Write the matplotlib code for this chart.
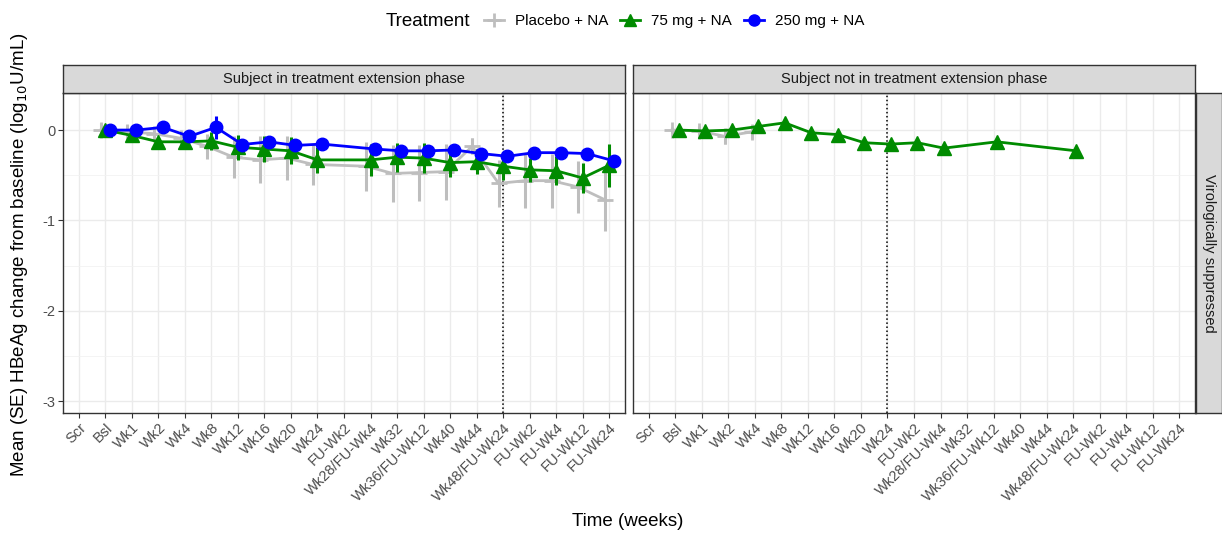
import numpy as np
import matplotlib
matplotlib.use('Agg')
from matplotlib import pyplot as plt
from matplotlib.lines import Line2D

plt.rcParams['font.family'] = ['Liberation Sans', 'DejaVu Sans']
plt.rcParams['axes.unicode_minus'] = False

W, H = 1222, 533

visits = ['Scr', 'Bsl', 'Wk1', 'Wk2', 'Wk4', 'Wk8', 'Wk12', 'Wk16', 'Wk20', 'Wk24',
          'FU-Wk2', 'Wk28/FU-Wk4', 'Wk32', 'Wk36/FU-Wk12', 'Wk40', 'Wk44',
          'Wk48/FU-Wk24', 'FU-Wk2', 'FU-Wk4', 'FU-Wk12', 'FU-Wk24']
nan = np.nan

# panel 1: subject in treatment extension phase
ext_placebo = [nan, 0.0, -0.02, -0.04, -0.09, -0.18, -0.30, -0.33, -0.31, -0.38, nan,
               -0.40, -0.48, -0.47, -0.46, -0.18, -0.59, -0.56, -0.56, -0.63, -0.77]
ext_placebo_se = [nan, 0.08, 0.08, 0.05, 0.07, 0.14, 0.23, 0.26, 0.24, 0.23, nan,
                  0.27, 0.32, 0.31, 0.31, 0.09, 0.26, 0.30, 0.30, 0.29, 0.35]
ext_75 = [nan, 0.0, -0.06, -0.13, -0.13, -0.12, -0.19, -0.21, -0.23, -0.33, nan,
          -0.33, -0.30, -0.31, -0.36, -0.35, -0.40, -0.44, -0.45, -0.53, -0.39]
ext_75_se = [nan, 0.03, 0.04, 0.04, 0.05, 0.10, 0.14, 0.14, 0.15, 0.14, nan,
             0.18, 0.16, 0.17, 0.16, 0.14, 0.15, 0.13, 0.16, 0.17, 0.24]
ext_250 = [nan, 0.0, 0.0, 0.03, -0.07, 0.03, -0.16, -0.13, -0.17, -0.155, nan,
           -0.21, -0.23, -0.23, -0.22, -0.26, -0.29, -0.25, -0.25, -0.26, -0.34]
ext_250_se = [nan, 0.02, 0.02, 0.02, 0.03, 0.13, 0.03, 0.03, 0.03, 0.03, nan,
              0.03, 0.03, 0.03, 0.03, 0.04, 0.04, 0.04, 0.04, 0.04, 0.05]

# panel 2: subject not in treatment extension phase
noext_placebo = [nan, 0.0, -0.01, -0.07, -0.02] + [nan] * 16
noext_placebo_se = [nan, 0.03, 0.05, 0.08, 0.08] + [nan] * 16
noext_75 = [nan, 0.0, -0.01, 0.0, 0.04, 0.08, -0.03, -0.05, -0.14, -0.155, -0.14,
            -0.20, nan, -0.13, nan, nan, -0.23, nan, nan, nan, nan]
noext_75_se = [0.0] * 21

panels = ['Subject in treatment extension phase', 'Subject not in treatment extension phase']
row_strip = 'Virologically suppressed'
treatments = ['Placebo + NA', '75 mg + NA', '250 mg + NA']

colors = {'Placebo + NA': '#BEBEBE', '75 mg + NA': '#008B00', '250 mg + NA': '#0000FF'}
markers = {'Placebo + NA': '+', '75 mg + NA': '^', '250 mg + NA': 'o'}
msizes = {'Placebo + NA': 11, '75 mg + NA': 10, '250 mg + NA': 9}

panel_data = [
    ({'Placebo + NA': (ext_placebo, ext_placebo_se),
      '75 mg + NA': (ext_75, ext_75_se),
      '250 mg + NA': (ext_250, ext_250_se)},
     {'Placebo + NA': -0.167, '75 mg + NA': 0.0, '250 mg + NA': 0.167}, 17),
    ({'Placebo + NA': (noext_placebo, noext_placebo_se),
      '75 mg + NA': (noext_75, noext_75_se)},
     {'Placebo + NA': -0.125, '75 mg + NA': 0.125}, 10),
]


def box(x0, y0, x1, y1):
    return [x0 / W, 1 - y1 / H, (x1 - x0) / W, (y1 - y0) / H]


def strip_axes(rect):
    a = fig.add_axes(rect)
    a.set_xticks([])
    a.set_yticks([])
    a.set_facecolor('#D9D9D9')
    for s in a.spines.values():
        s.set_color('#333333')
        s.set_linewidth(1.0)
    return a


fig = plt.figure(figsize=(W / 100, H / 100), dpi=100)

panel_x = [(63, 625), (633, 1195)]
py0, py1 = 93, 413
pos = np.arange(1, len(visits) + 1)

for i, ((x0, x1), (series, dodge, vline)) in enumerate(zip(panel_x, panel_data)):
    ax = fig.add_axes(box(x0, py0, x1, py1))
    ax.set_xlim(0.4, len(visits) + 0.6)
    ax.set_ylim(-3.13, 0.41)
    ax.set_yticks([0, -1, -2, -3])
    ax.set_yticks([-0.5, -1.5, -2.5], minor=True)
    ax.set_xticks(pos)
    ax.set_xticklabels(visits, rotation=45, ha='right', rotation_mode='anchor',
                       fontsize=10.5, color='#4D4D4D')
    ax.tick_params(axis='x', length=3.5, color='#333333', width=0.8, pad=2)
    ax.tick_params(axis='y', which='major', length=3.5, color='#333333', width=0.8,
                   labelsize=10.5, labelcolor='#4D4D4D', pad=2)
    ax.tick_params(axis='y', which='minor', length=0)
    if i == 1:
        ax.tick_params(axis='y', which='major', labelleft=False, length=0)
    ax.grid(True, which='major', color='#EBEBEB', lw=1.0)
    ax.grid(True, which='minor', axis='y', color='#F2F2F2', lw=0.6)
    ax.set_axisbelow(True)
    for s in ax.spines.values():
        s.set_color('#333333')
        s.set_linewidth(1.0)

    ax.axvline(vline, color='black', ls=':', lw=1.1, zorder=1)

    for z, name in enumerate(treatments):
        if name not in series:
            continue
        vals, ses = series[name]
        vals = np.array(vals, dtype=float)
        ses = np.array(ses, dtype=float)
        ok = ~np.isnan(vals)
        xs = pos[ok] + dodge[name]
        ax.errorbar(xs, vals[ok], yerr=ses[ok], fmt='none', ecolor=colors[name],
                    elinewidth=2.2, capsize=0, zorder=2 + z)
        ax.plot(xs, vals[ok], color=colors[name], lw=2.0, marker=markers[name],
                ms=msizes[name], mew=2.0 if name == 'Placebo + NA' else 1.0,
                zorder=2 + z)

    sax = strip_axes(box(x0, 65, x1, py0))
    sax.text(0.5, 0.5, panels[i], ha='center', va='center', fontsize=10.5,
             color='#1A1A1A', transform=sax.transAxes)

rax = strip_axes(box(1196, py0, 1222, py1))
rax.text(0.5, 0.5, row_strip, ha='center', va='center', rotation=-90,
         fontsize=10.5, color='#1A1A1A', transform=rax.transAxes)

# axis titles
fig.text(20 / W, 1 - 255 / H,
         'Mean (SE) HBeAg change from baseline (log$_{10}$U/mL)',
         rotation=90, ha='center', va='center', fontsize=13.5)
fig.text(628 / W, 1 - 522 / H, 'Time (weeks)', ha='center', va='center', fontsize=13.5)

# legend
handles = [Line2D([], [], color=colors[n], lw=2.0, marker=markers[n], ms=msizes[n] - 1,
                  mew=2.0 if n == 'Placebo + NA' else 1.0) for n in treatments]
fig.text(428 / W, 1 - 21 / H, 'Treatment', ha='center', va='center', fontsize=13.5)
fig.legend(handles, treatments, loc='center left', bbox_to_anchor=(484 / W, 1 - 21 / H),
           ncol=3, frameon=False, fontsize=11, handlelength=1.3, handletextpad=0.75,
           columnspacing=0.75, borderaxespad=0, borderpad=0)

fig.savefig('out.png', dpi=100)
